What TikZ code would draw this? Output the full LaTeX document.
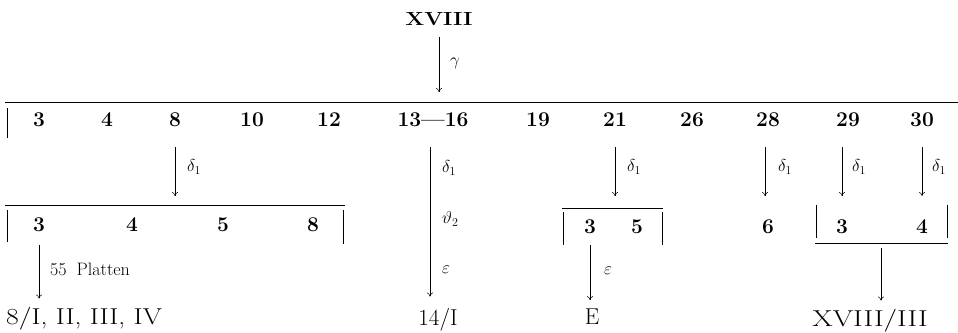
\documentclass[tikz,border=0pt]{standalone}
\usepackage{graphicx}
\usepackage{tikz}
\usetikzlibrary{arrows.meta}
\newcommand{\wideroman}[2][1.17]{\scalebox{#1}[1]{#2}}

\begin{document}
\begin{tikzpicture}[x=1pt, y=-1pt, >={To[length=4pt,width=6pt]},
    num/.style={font=\fontsize{21}{21}\selectfont\bfseries, inner sep=0pt, anchor=base},
    res/.style={font=\fontsize{23}{23}\selectfont, inner sep=0pt, anchor=base},
    lbl/.style={font=\fontsize{18}{18}\selectfont, inner sep=0pt, anchor=west},
    arr/.style={->, line width=0.5pt},
    bar/.style={line width=0.6pt},
    rule/.style={line width=0.9pt}]
  \useasboundingbox (0,0) rectangle (958,332);
  % --- head: XVIII and the gamma step ---
  \node[num, font=\fontsize{19}{19}\selectfont\bfseries] (root) at (439,25) {\wideroman{XVIII}};
  \coordinate (hl) at (438,102);
  \draw[arr, shorten <=12pt, shorten >=10pt] (root.south) -- (root.south |- hl);
  \node[lbl] (gam) at (450,63) {$\gamma$};
  \draw[rule] (5,102) -- (958,102);
  \draw[bar] (7,108) -- (7,138);
  % --- first row of numbers ---
  \foreach \n/\x in {3/39, 4/107, 8/175, 10/252, 12/329, 19/538, 21/615, 26/692, 28/768, 29/848, 30/922}
    \node[num] (t\n) at (\x,126) {\n};
  \node[num] (t13) at (433,126) {13---16};
  % --- bracket under 8 ---
  \draw[rule] (5,205) -- (345,205);
  \draw[bar] (7,210) -- (7,242);
  \draw[bar] (343,210) -- (343,244);
  \foreach \n/\x in {3/39, 4/132, 5/223, 8/313}
    \node[num] (e\n) at (\x,231) {\n};
  \coordinate (k8) at (175,205);
  \draw[arr, shorten <=21pt, shorten >=9pt] (t8.south) -- (k8);
  \node[lbl] (d8) at (187,167) {$\delta_1$};
  % --- 13--16 straight down ---
  \node[res] (r14) at (438,325) {14/I};
  \draw[arr, shorten <=21pt, shorten >=11pt] ([xshift=-3pt]t13.south) -- ([xshift=-3pt]t13.south |- r14.north);
  \node[lbl] (d13) at (442,168) {$\delta_1$};
  \node[lbl] (th13) at (442,219) {$\vartheta_2$};
  \node[lbl] (ep13) at (442,270) {$\varepsilon$};
  % --- bracket under 21 ---
  \draw[rule] (562,208) -- (663,208);
  \draw[bar] (563,212) -- (563,245);
  \draw[bar] (662,212) -- (662,245);
  \node[num] (u3) at (590,233) {3};
  \node[num] (u5) at (637,233) {5};
  \coordinate (k21) at (615,208);
  \draw[arr, shorten <=21pt, shorten >=12pt] (t21.south) -- (k21);
  \node[lbl] (d21) at (627,167) {$\delta_1$};
  % --- 28 alone ---
  \node[num] (w6) at (768,233) {6};
  \draw[arr, shorten <=21pt, shorten >=23pt] ([xshift=-3pt]t28.south) -- ([xshift=-3pt]w6.north);
  \node[lbl] (d28) at (778,167) {$\delta_1$};
  % --- bracket under 29 and 30 ---
  \draw[bar] (816,205) -- (816,238);
  \draw[bar] (947,205) -- (947,238);
  \draw[rule] (815,243) -- (948,243);
  \node[num] (v3) at (842,233) {3};
  \node[num] (v4) at (922,233) {4};
  \draw[arr, shorten <=21pt, shorten >=23pt] (t29.south -| v3) -- (v3.north);
  \draw[arr, shorten <=21pt, shorten >=23pt] (t30.south -| v4) -- (v4.north);
  \node[lbl] (d29) at (852,167) {$\delta_1$};
  \node[lbl] (d30) at (932,167) {$\delta_1$};
  % --- results ---
  \node[res, anchor=base west] (r8) at (6,324) {\wideroman[1.2]{8/I, II, III, IV}};
  \draw[arr, shorten <=14pt, shorten >=8pt] (e3.south) -- (e3.south |- r8.north);
  \node[lbl] (pl) at (50,269) {55\hspace{0.55em}Platten};
  \node[res] (rE) at (592,324) {E};
  \draw[arr, shorten <=12pt, shorten >=8pt] (u3.south) -- (u3.south |- rE.north);
  \node[lbl] (ep21) at (604,271) {$\varepsilon$};
  \coordinate (kv) at (881,243);
  \node[res] (rX) at (870,326) {\wideroman[1.28]{XVIII/III}};
  \draw[arr, shorten <=5pt, shorten >=8pt] (kv) -- (kv |- rX.north);
\end{tikzpicture}
\end{document}
